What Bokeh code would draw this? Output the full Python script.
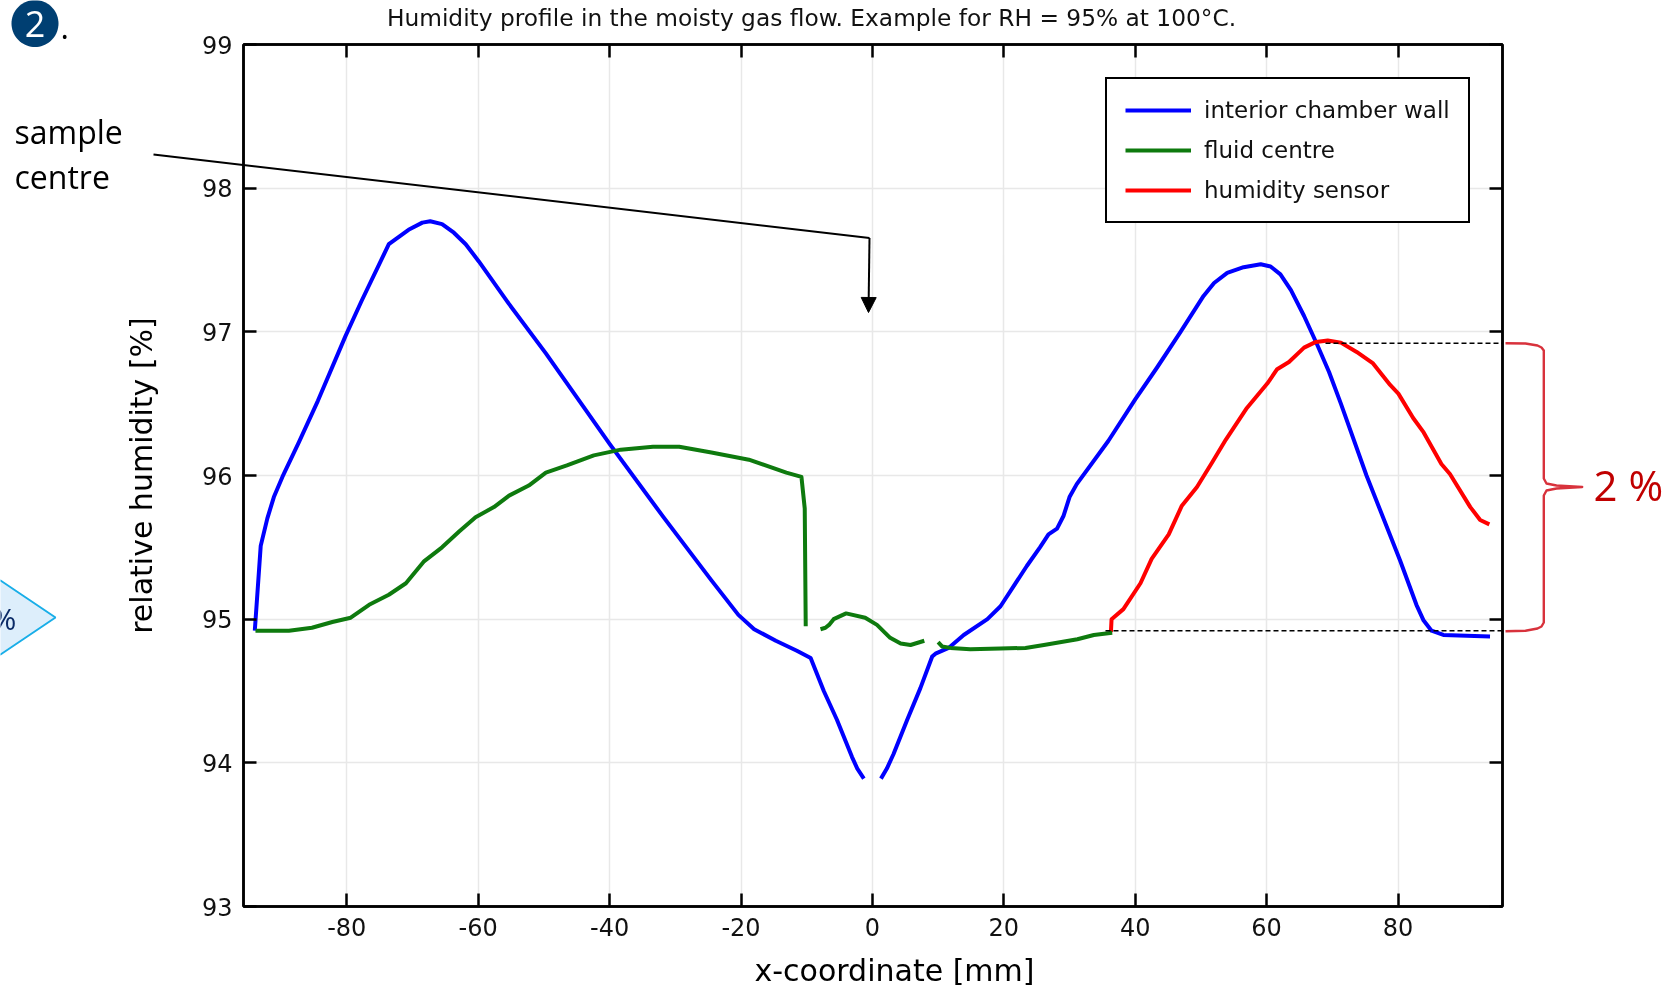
import numpy as np
from bokeh.plotting import figure
from bokeh.layouts import column
from bokeh.embed import file_html
from bokeh.resources import INLINE
from bokeh.models import (Label, Arrow, NormalHead, Legend, LegendItem,
                          LinearAxis, FixedTicker, Range1d)

TITLE = "Humidity profile in the moisty gas flow. Example for RH = 95% at 100°C."
X_LABEL = "x-coordinate [mm]"
Y_LABEL = "relative humidity [%]"
X_TICKS = [-80, -60, -40, -20, 0, 20, 40, 60, 80]
X_TICK_LABELS = ["-80", "-60", "-40", "-20", "0", "20", "40", "60", "80"]
Y_TICKS = [93, 94, 95, 96, 97, 98, 99]

wall_left_x = [-94, -93.1, -92.1, -91.1, -89.8, -87.3, -84.4, -80.2, -77.7, -73.6, -70.6, -68.5, -67.3, -65.5, -63.7,
               -61.9, -59.9, -55.4, -49.7, -40, -31.8, -24.5, -20.4, -18, -14.7, -11.5, -9.4, -7.4, -5.4, -3.1, -2.3,
               -1.3]
wall_left_y = [94.92, 95.51, 95.7, 95.85, 95.99, 96.23, 96.52, 96.97, 97.22, 97.61, 97.71, 97.76, 97.77, 97.75, 97.69,
               97.61, 97.49, 97.2, 96.85, 96.22, 95.71, 95.27, 95.03, 94.93, 94.85, 94.78, 94.73, 94.5, 94.3, 94.04,
               93.96, 93.89]
wall_right_x = [1.3, 2.2, 3.2, 5.3, 7.3, 9.1, 9.6, 11.6, 13.9, 17.5, 19.5, 21.5, 23.5, 25.5, 26.8, 28.1, 29.1, 30, 31.1,
                35.9, 40, 43.3, 46.9, 50.4, 52, 54, 56.5, 59.1, 60.6, 62.1, 63.7, 65.7, 67.7, 69.5, 71.3, 75.2, 80.3,
                82.8, 83.9, 85.1, 86.9, 94]
wall_right_y = [93.89, 93.96, 94.06, 94.3, 94.52, 94.74, 94.76, 94.8, 94.89, 95.0, 95.09, 95.23, 95.37, 95.5, 95.59,
                95.63, 95.72, 95.85, 95.94, 96.24, 96.53, 96.75, 97.0, 97.25, 97.34, 97.41, 97.45, 97.47, 97.455, 97.4,
                97.29, 97.11, 96.91, 96.72, 96.5, 96.0, 95.41, 95.1, 94.99, 94.92, 94.89, 94.88]

fluid_a_x = [-93.9, -88.8, -85.3, -82.2, -79.4, -76.6, -73.6, -71, -68.3, -65.5, -62.9, -60.4, -57.6, -55.3, -52.3,
             -49.7, -46.5, -42.4, -38.3, -33.4, -29.4, -24.5, -18.8, -13.1, -10.8, -10.3, -10.15]
fluid_a_y = [94.92, 94.92, 94.94, 94.98, 95.01, 95.1, 95.17, 95.25, 95.4, 95.5, 95.61, 95.71, 95.78, 95.86, 95.93,
             96.02, 96.07, 96.14, 96.18, 96.2, 96.2, 96.16, 96.11, 96.02, 95.99, 95.77, 94.95]
fluid_b_x = [-7.9, -7.15, -6.6, -5.9, -4, -1.1, 0.7, 2.7, 4.3, 5.8, 7.9]
fluid_b_y = [94.93, 94.94, 94.96, 95.0, 95.04, 95.01, 94.96, 94.87, 94.83, 94.82, 94.85]
fluid_c_x = [10, 10.6, 11.9, 14.9, 19.5, 23.3, 26.1, 31.2, 33.7, 36.5]
fluid_c_y = [94.84, 94.81, 94.8, 94.79, 94.795, 94.8, 94.82, 94.86, 94.89, 94.905]

sensor_x = [36.3, 36.4, 38.2, 40.8, 42.5, 45.1, 47.1, 49.4, 51.7, 53.8, 57, 60.1, 61.6, 63.4, 65.7, 67.5, 69.3, 71.3,
            73.7, 76.2, 78.8, 80.05, 82.3, 83.9, 86.6, 87.9, 91, 92.5, 93.9]
sensor_y = [94.91, 95.0, 95.07, 95.25, 95.42, 95.59, 95.79, 95.92, 96.09, 96.25, 96.47, 96.64, 96.74, 96.79, 96.89,
            96.93, 96.94, 96.925, 96.86, 96.78, 96.63, 96.57, 96.4, 96.3, 96.08, 96.01, 95.78, 95.69, 95.66]

span_low = 94.92
span_high = 96.92

# layout of the frame on the page
W, H = 1676, 988
L, T, FW, FH = 243, 44, 1259, 862
XMIN, XMAX = -95.72, 95.9
YMIN, YMAX = 93.0, 99.0
FIXED = {"position": "fixed", "left": "0px", "top": "0px"}


def dx(px):
    return XMIN + (px - L) * (XMAX - XMIN) / FW


p = figure(frame_width=FW, frame_height=FH, output_backend="svg", toolbar_location=None,
           x_range=Range1d(XMIN, XMAX), y_range=Range1d(YMIN, YMAX),
           min_border_left=L, min_border_top=T, min_border_right=W - L - FW, min_border_bottom=H - T - FH,
           background_fill_color="white", border_fill_color=None, styles=FIXED, frame_align=False)
p.outline_line_color = "black"
p.outline_line_width = 2.5

FONT = "DejaVu Sans"
for ax, ticks in ((p.xaxis[0], X_TICKS), (p.yaxis[0], Y_TICKS)):
    ax.ticker = FixedTicker(ticks=ticks)
    ax.major_tick_in = 13
    ax.major_tick_out = 0
    ax.minor_tick_in = 0
    ax.minor_tick_out = 0
    ax.major_tick_line_width = 2.5
    ax.major_tick_line_color = "black"
    ax.axis_line_color = "black"
    ax.axis_line_width = 2.5
    ax.major_label_text_font = FONT
    ax.major_label_text_font_size = "24px"
    ax.major_label_text_color = "#111111"
    ax.axis_label_text_font = FONT
    ax.axis_label_text_font_style = "normal"
    ax.axis_label_text_font_size = "30px"
    ax.axis_label_text_color = "black"
p.xaxis[0].major_label_overrides = dict(zip(X_TICKS, X_TICK_LABELS))
p.xaxis[0].major_label_standoff = 11
p.yaxis[0].major_label_standoff = 11
p.yaxis[0].axis_label = Y_LABEL
p.yaxis[0].axis_label_standoff = 40

for side, ticks in (("right", Y_TICKS), ("above", X_TICKS)):
    a = LinearAxis(ticker=FixedTicker(ticks=ticks), major_tick_in=13, major_tick_out=0,
                   minor_tick_in=0, minor_tick_out=0, major_tick_line_width=2.5,
                   major_tick_line_color="black", axis_line_color="black", axis_line_width=2.5,
                   major_label_text_color=None, major_label_text_font_size="1px", major_label_standoff=0)
    p.add_layout(a, side)

p.xgrid[0].ticker = FixedTicker(ticks=X_TICKS)
p.ygrid[0].ticker = FixedTicker(ticks=Y_TICKS)
for g in (p.xgrid[0], p.ygrid[0]):
    g.grid_line_color = "#E8E8E8"
    g.grid_line_width = 1.5

BLUE, GREEN, RED = "#0000FF", "#0E7A0E", "#FF0000"
LW = 4
w1 = p.line(wall_left_x, wall_left_y, line_color=BLUE, line_width=LW, line_join="round")
p.line(wall_right_x, wall_right_y, line_color=BLUE, line_width=LW, line_join="round")
s1 = p.line(sensor_x, sensor_y, line_color=RED, line_width=LW, line_join="round")
f1 = p.line(fluid_a_x, fluid_a_y, line_color=GREEN, line_width=LW, line_join="round")
p.line(fluid_b_x, fluid_b_y, line_color=GREEN, line_width=LW, line_join="round")
p.line(fluid_c_x, fluid_c_y, line_color=GREEN, line_width=LW, line_join="round")

# thin dashed reference lines of the 2 % span
p.line([dx(1105), XMAX], [span_low, span_low], line_color="black", line_width=1.5, line_dash="5 3")
p.line([dx(1325), XMAX], [span_high, span_high], line_color="black", line_width=1.5, line_dash="5 3")

legend = Legend(items=[LegendItem(label="interior chamber wall", renderers=[w1]),
                       LegendItem(label="fluid centre", renderers=[f1]),
                       LegendItem(label="humidity sensor", renderers=[s1])],
                location=(1105 - L, T + FH - 223), orientation="vertical",
                border_line_color="black", border_line_width=2.5, border_line_alpha=1.0,
                background_fill_color="white", background_fill_alpha=1.0,
                label_text_font=FONT, label_text_font_size="23px", label_text_color="#111111",
                glyph_width=66, glyph_height=24, label_height=24, label_standoff=13,
                spacing=14, padding=18, margin=0)
p.add_layout(legend, "center")

# transparent page-sized layer for the slide notes that lie around the plot
ov = figure(width=W, height=H, output_backend="svg", toolbar_location=None,
            x_range=Range1d(0, W), y_range=Range1d(H, 0),
            x_axis_location=None, y_axis_location=None, min_border=0,
            background_fill_color=None, border_fill_color=None, outline_line_color=None,
            styles=FIXED, frame_align=False)
ov.grid.visible = False


def label(px, py, text, size, color="black", font="Open Sans", align="left"):
    ov.add_layout(Label(x=px, y=py, text=text, text_font=font, text_font_size=f"{size}px",
                        text_color=color, text_align=align, text_baseline="middle"))


def segment(a, b, head=None):
    ov.add_layout(Arrow(x_start=a[0], y_start=a[1], x_end=b[0], y_end=b[1],
                        line_color="black", line_width=2, end=head))


label(811, 17, TITLE, 23.3, color="#111111", font=FONT, align="center")
label(894, 970, X_LABEL, 30, font=FONT, align="center")

# numbered circle
th = np.linspace(0, 2 * np.pi, 73)
ov.patch(34.5 + 23.5 * np.cos(th), 23 + 23.5 * np.sin(th), fill_color="#003F72", line_color=None)
label(34.5, 23, "2", 36, color="white", align="center")
label(60, 26, ".", 32)

# callout shape cut by the left page edge
ov.patch([-40, 0, 55, 0, -40], [580, 580, 617, 654, 654], fill_color="#DDEEFB", line_color="#19AEE8", line_width=2)
label(-9, 618, "%", 30, color="#0B2A66")

# sample-centre note
label(14, 131, "sample", 32)
label(14, 176, "centre", 32)
segment((153, 154), (869, 237.5))
segment((869, 237.5), (868, 312),
        head=NormalHead(size=15, fill_color="black", line_color="black", line_width=1))

# red brace and value
brace_x = [1505, 1525, 1537, 1541, 1543.3, 1543.3, 1546, 1556, 1581.7, 1556, 1546, 1543.3, 1543.3, 1541, 1537, 1525, 1505]
brace_y = [342.7, 343, 345, 347, 350, 478, 483, 485, 486.5, 488, 490, 495, 622, 626, 628, 630.3, 630.7]
ov.line(brace_x, brace_y, line_color="#D8323C", line_width=2.4, line_join="round")
label(1593, 484, "2 %", 42, color="#C00000")

open("out.html", "w").write(file_html(column(p, ov), INLINE))
